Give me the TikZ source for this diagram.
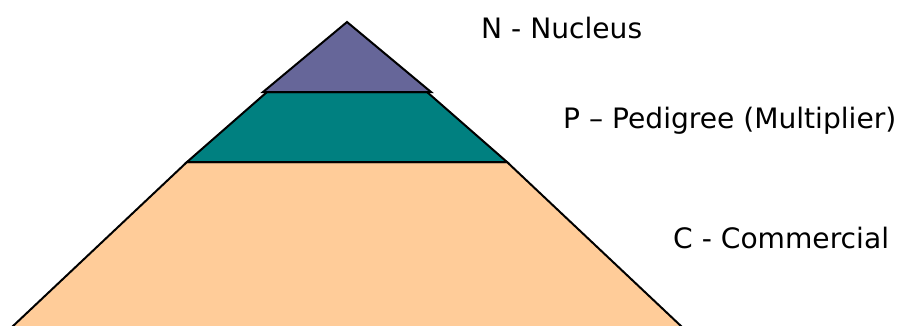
\documentclass[tikz,border=0pt]{standalone}
\usepackage{fontspec}
\setmainfont{DejaVu Sans}

\begin{document}
\begin{tikzpicture}[x=0.03cm,y=-0.03cm,
  layer/.style={draw=black, line width=1.7pt, line join=miter},
  tierlabel/.style={anchor=base west, inner sep=0pt, font=\fontsize{24}{28}\selectfont}]

\useasboundingbox (0,0) rectangle (897,325);
\clip (0,0) rectangle (897,325);

% Corners of the pyramid
\coordinate (apex) at (347,22);
\coordinate (nl) at (263,92);
\coordinate (nr) at (431,92);
\coordinate (pl) at (267,92);
\coordinate (pr) at (427,92);
\coordinate (ml) at (187,162);
\coordinate (mr) at (507,162);
\coordinate (bl) at (12,327);
\coordinate (br) at (682,327);

% Commercial
\filldraw[layer, fill={rgb,255:red,255;green,204;blue,153}] (ml) -- (mr) -- (br) -- (bl) -- cycle;

% Pedigree
\filldraw[layer, fill={rgb,255:red,0;green,128;blue,128}] (pl) -- (pr) -- (mr) -- (ml) -- cycle;

% Nucleus
\filldraw[layer, fill={rgb,255:red,102;green,102;blue,153}] (apex) -- (nr) -- (nl) -- cycle;

% Labels
\node[tierlabel] (nucleus) at (481,38) {N - Nucleus};
\node[tierlabel] (pedigree) at (563,128) {P – Pedigree (Multiplier)};
\node[tierlabel] (commercial) at (673,248) {C - Commercial};

\end{tikzpicture}
\end{document}
